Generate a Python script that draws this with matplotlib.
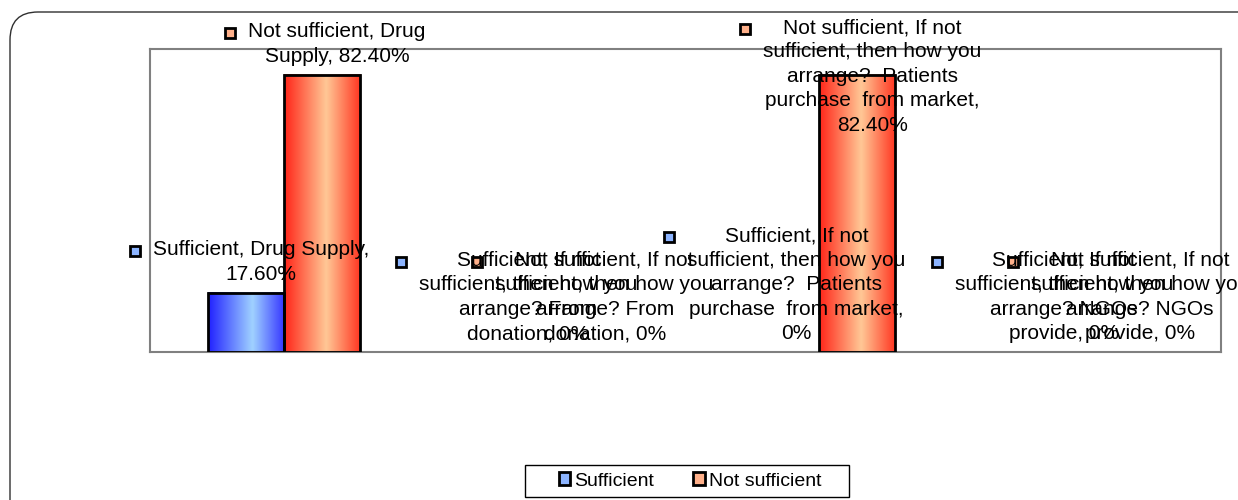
import numpy as np
import matplotlib.pyplot as plt
from matplotlib.patches import Rectangle, FancyBboxPatch
from matplotlib.colors import LinearSegmentedColormap
from matplotlib.transforms import IdentityTransform
from matplotlib.font_manager import FontProperties

plt.rcParams['font.family'] = ['Liberation Sans', 'DejaVu Sans']

categories = ['Drug Supply',
              'If not sufficient, then how you arrange? From donation',
              'If not sufficient, then how you arrange?  Patients purchase  from market',
              'If not sufficient, then how you arrange? NGOs provide']
series = ['Sufficient', 'Not sufficient']
sufficient = [17.6, 0, 0, 0]
not_sufficient = [82.4, 0, 82.4, 0]

W, H = 1238, 500
FS = 15
fig = plt.figure(figsize=(W / 100, H / 100), dpi=100)

# rounded chart frame (runs off right/bottom edge like the original)
frame = FancyBboxPatch((0.10, -0.3), 12.6, 5.18,
                       boxstyle='round,pad=0,rounding_size=0.28',
                       transform=fig.dpi_scale_trans, fill=False,
                       ec='#303030', lw=1)
fig.add_artist(frame)

ax = fig.add_axes([150 / W, (H - 352) / H, 1071 / W, 303 / H])
for s in ax.spines.values():
    s.set_color('#808080')
    s.set_linewidth(1.5)
ax.set_xticks([])
ax.set_yticks([])

blue_cm = LinearSegmentedColormap.from_list(
    'b', [(0, '#2020ff'), (0.58, '#a0d2ff'), (1, '#3434ff')])
red_cm = LinearSegmentedColormap.from_list(
    'r', [(0, '#ff2418'), (0.55, '#ffc896'), (1, '#ff3420')])
marker_cols = ['#8cb4ff', '#ffb08a']

x = np.arange(len(categories))
bw = 0.284
grad = np.linspace(0, 1, 256).reshape(1, -1)
all_vals = [sufficient, not_sufficient]
for k, (vals, cm) in enumerate(zip(all_vals, [blue_cm, red_cm])):
    bars = ax.bar(x + (k - 0.5) * bw, vals, bw, facecolor='none',
                  edgecolor='black', lw=2, zorder=3)
    for b, v in zip(bars, vals):
        if v == 0:
            b.set_visible(False)
            continue
        ax.imshow(grad, cmap=cm, extent=(b.get_x(), b.get_x() + bw, 0, v),
                  aspect='auto', zorder=2, interpolation='bicubic')
ax.set_xlim(-0.5, 3.5)
ax.set_ylim(0, 90)

# data labels, Excel style: legend key + series, category, value
renderer = fig.canvas.get_renderer()
fp = FontProperties(family=['Liberation Sans'], size=FS)


def text_w(s):
    return renderer.get_text_width_height_descent(s, fp, ismath=False)[0]


def wrap(s, maxw=225):
    words = s.split(' ')
    lines, line = [], words[0]
    for w in words[1:]:
        cand = line + ' ' + w
        if text_w(cand) <= maxw:
            line = cand
        else:
            lines.append(line)
            line = w
    lines.append(line)
    return '\n'.join(lines)


for k, vals in enumerate(all_vals):
    for i, v in enumerate(vals):
        xc = i + (k - 0.5) * bw
        px, py = ax.transData.transform((xc, v))
        vs = '0%' if v == 0 else f'{v:.2f}%'
        lab = wrap(f'{series[k]}, {categories[i]}, {vs}')
        t = fig.text(px + 15, py + 9, lab, ha='center', va='bottom',
                     multialignment='center', fontsize=FS, linespacing=1.36,
                     transform=IdentityTransform(), zorder=5)
        bb = t.get_window_extent(renderer)
        if bb.y1 > H - 18:
            t.set_va('top')
            t.set_y(H - 18)
            bb = t.get_window_extent(renderer)
        mx, my = bb.x0 - 18, bb.y1 - 11
        fig.add_artist(Rectangle((mx - 5, my - 5), 10, 10,
                                 transform=IdentityTransform(),
                                 fc=marker_cols[k], ec='black', lw=2,
                                 zorder=5))

# legend
handles = [Rectangle((0, 0), 1, 1, fc=c, ec='black', lw=2) for c in marker_cols]
fig.legend(handles, series, loc='center', bbox_to_anchor=(690 / W, (H - 481) / H),
           ncol=2, frameon=False, fontsize=14, handlelength=0.6,
           handleheight=0.6, handletextpad=0.2, columnspacing=2.0)
fig.add_artist(Rectangle((525, 3), 324, 32, transform=IdentityTransform(),
                         fill=False, ec='black', lw=1))

fig.savefig('out.png', dpi=100)
